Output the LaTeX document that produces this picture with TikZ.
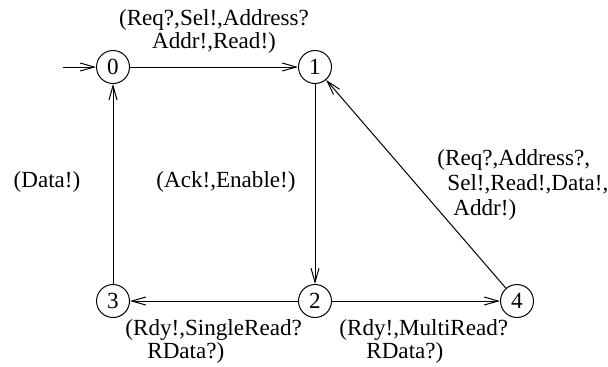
\documentclass[tikz,border=0pt]{standalone}
\usepackage{fontspec}
\setmainfont{Liberation Serif}
\usetikzlibrary{arrows.meta}
\tikzset{
  state/.style={draw,circle,minimum size=16.5pt,inner sep=0pt,line width=0.5pt},
  lbl/.style={inner sep=0pt},
  edge/.style={line width=0.5pt,-{Straight Barb[length=7pt,width=4pt]}}
}
\begin{document}
\begin{tikzpicture}[x=0.5pt,y=-0.5pt,font=\fontsize{11.55}{11.5}\selectfont]
      \useasboundingbox (0,0) rectangle (608,366);
      \draw
        (113,67) node[state] (0){0}
        (315,67) node[state] (1){1}
        (315,301) node[state] (2){2}
        (113,301) node[state] (3){3}
        (517,301) node[state] (4){4};
      \coordinate (start) at (63,67);
      \node[lbl,align=center] (l01) at (214,31.5) {(Req?,Sel!,Address?\\Addr!,Read!)};
      \node[lbl] (l30) at (47,182) {(Data!)};
      \node[lbl] (l12) at (226,182) {(Ack!,Enable!)};
      \node[lbl,align=left,anchor=west] (l41) at (437,185)
        {(Req?,Address?,\\[1pt]\hspace{5pt}Sel!,Read!,Data!,\\[1pt]\hspace{8pt}Addr!)};
      \node[lbl,align=left,anchor=west] (l23) at (125,341.5) {(Rdy!,SingleRead?\\\hspace{11pt}RData?)};
      \node[lbl,align=left,anchor=west] (l24) at (339,341.5) {(Rdy!,MultiRead?\\\hspace{13.5pt}RData?)};
      \begin{scope}[edge]
        \draw (start) to (0);
        \draw (0) to (1);
        \draw (1) to (2);
        \draw (2) to (3);
        \draw (2) to (4);
        \draw (3) to (0);
        \draw (4) to (1);
      \end{scope}
    \end{tikzpicture}
\end{document}
